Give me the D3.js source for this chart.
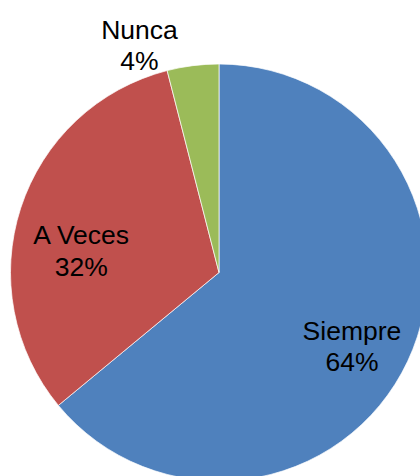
<!DOCTYPE html>
<html lang="en">
<head>
  <meta charset="UTF-8">
  <title>Pie</title>
  <script src="https://d3js.org/d3.v7.min.js"></script>
  <style>
    body { margin: 0; background: #fff; }
    svg { display: block; }
    .label { font-family: "Liberation Sans", Arial, sans-serif; font-size: 26.5px; fill: #000; }
  </style>
</head>
<body>
  <svg id="chart" width="420" height="476"></svg>
  <script>
    const categories = ["Siempre", "A Veces", "Nunca"];
    const values = [64, 32, 4];
    const colors = ["#4F81BD", "#C0504D", "#9BBB59"];

    const width = 420, height = 476;
    const cx = 219, cy = 272.5, radius = 208.5;

    // label placement (fraction of radius, extra offset) per slice
    const labelRadius = [0.71, 0.69, 1.13];
    const labelShift = [[-1, 10], [-1, 22], [-50, 6]];

    const data = categories.map((name, i) => ({ name, value: values[i] }));

    const svg = d3.select("#chart");
    const g = svg.append("g").attr("transform", `translate(${cx},${cy})`);

    const pie = d3.pie().sort(null).value(d => d.value);
    const arc = d3.arc().innerRadius(0).outerRadius(radius);
    const arcs = pie(data);

    g.selectAll("path")
      .data(arcs)
      .enter()
      .append("path")
      .attr("d", arc)
      .attr("fill", (d, i) => colors[i])
      .attr("stroke", "#fff")
      .attr("stroke-width", 0.7);

    const labels = g.selectAll(".label")
      .data(arcs)
      .enter()
      .append("text")
      .attr("class", "label")
      .attr("text-anchor", "middle")
      .attr("transform", (d, i) => {
        const k = labelRadius[i] * radius;
        const c = d3.arc().innerRadius(k).outerRadius(k).centroid(d);
        return `translate(${c[0] + labelShift[i][0]},${c[1] + labelShift[i][1]})`;
      });

    labels.append("tspan")
      .attr("x", 0)
      .attr("y", -6)
      .text(d => d.data.name);

    labels.append("tspan")
      .attr("x", 0)
      .attr("y", 25.5)
      .text(d => d.data.value + "%");
  </script>
</body>
</html>
